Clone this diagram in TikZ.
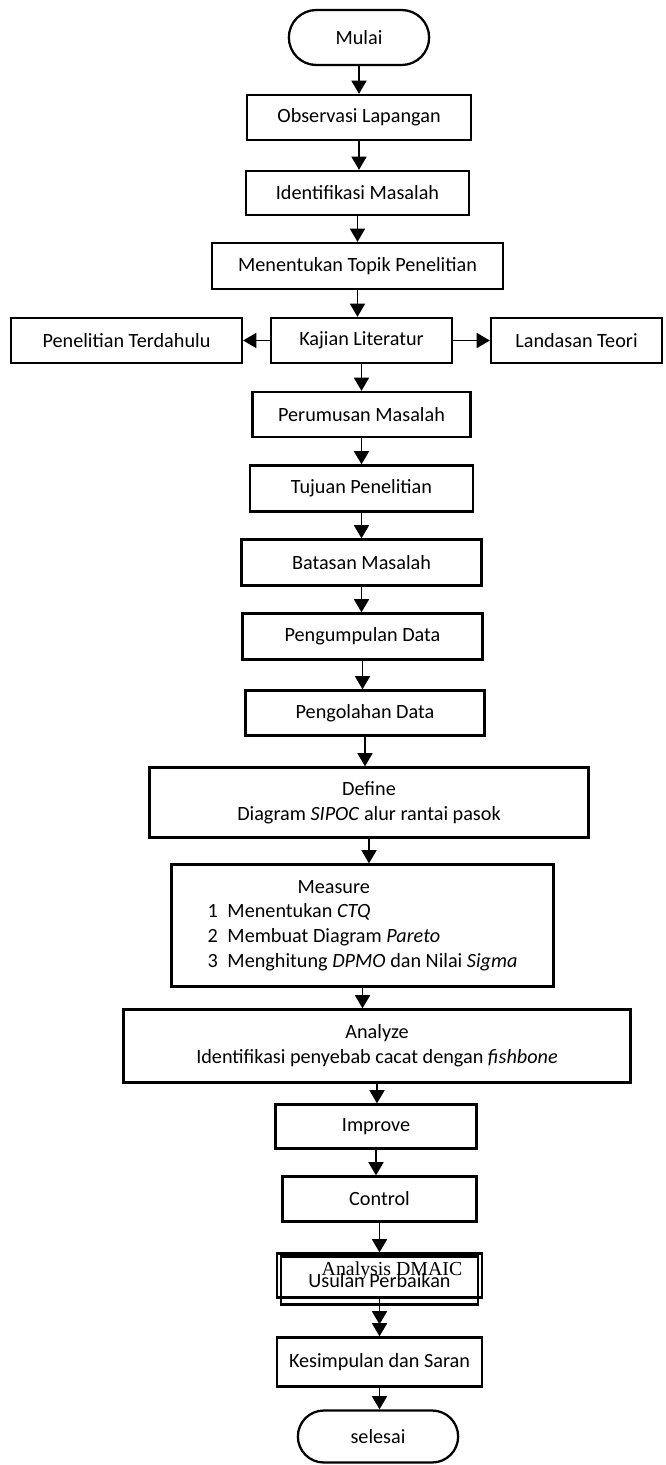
\documentclass[tikz,border=0pt]{standalone}
\usepackage{fontspec}
\setmainfont{Carlito}
\newfontfamily\dmaicfont{Liberation Serif}
\usetikzlibrary{shapes.misc, arrows.meta}
\tikzstyle{startstop} = [rounded rectangle, minimum width=3cm, minimum height=1.1cm, text centered, draw=black, 
line width=1.3pt]
\tikzstyle{process} = [rectangle, 
minimum width=4.4cm, 
minimum height=0.9cm, 
text centered, 
draw=black, 
line width=1.3pt]
\tikzstyle{arrow} = [line width=1.1pt,->,>={Triangle[width=8.5pt,length=7.5pt]}]

\begin{document}
\begin{tikzpicture}[node distance=1.48cm, font=\fontsize{11.5}{14}\selectfont]
\useasboundingbox (0,0) rectangle (13.3,-29.3);

\node (start) [startstop, minimum width=3.04cm] at (7.18,-0.75) {Mulai};
\node (obs) [process, minimum width=4.48cm, below of=start, yshift=-0.12cm] {Observasi Lapangan};
\node (ident) [process, minimum width=4.46cm, minimum height=0.88cm, below of=obs, xshift=-0.03cm, yshift=-0.03cm] {Identifikasi Masalah};
\node (topik) [process, minimum width=5.82cm, minimum height=0.92cm, below of=ident, yshift=0.02cm] {Menentukan Topik Penelitian};
\node (kajian) [process, minimum width=3.62cm, below of=topik, xshift=0.08cm, yshift=-0.01cm] {Kajian Literatur};
\node (terdahulu) [process, minimum width=4.62cm, left of=kajian, xshift=-3.22cm] {Penelitian Terdahulu};
\node (landasan) [process, minimum width=3.42cm, right of=kajian, xshift=2.82cm] {Landasan Teori};
\node (rumusan) [process, minimum width=4.36cm, below of=kajian] {Perumusan Masalah};
\node (tujuan) [process, minimum width=4.46cm, minimum height=0.92cm, below of=rumusan] {Tujuan Penelitian};
\node (batasan) [process, minimum width=4.8cm, minimum height=0.92cm, below of=tujuan] {Batasan Masalah};
\node (kumpul) [process, minimum width=4.8cm, minimum height=0.92cm, below of=batasan, xshift=0.02cm] {Pengumpulan Data};
\node (olah) [process, minimum width=4.78cm, below of=kumpul, xshift=0.05cm, yshift=-0.05cm] {Pengolahan Data};
\node (define) [process, minimum width=8.78cm, minimum height=1.4cm, align=center, below of=olah, xshift=0.08cm, yshift=-0.31cm] {Define\\Diagram \textit{SIPOC} alur rantai pasok};
\node (measure) [process, minimum width=7.64cm, minimum height=2.44cm, align=left, below of=define, xshift=-0.13cm, yshift=-0.98cm] {\hspace*{1.8cm}Measure\\
\makebox[0.4cm][l]{1}Menentukan \textit{CTQ}\\
\makebox[0.4cm][l]{2}Membuat Diagram \textit{Pareto}\\
\makebox[0.4cm][l]{3}Menghitung \textit{DPMO} dan Nilai \textit{Sigma}};
\node (analyze) [process, minimum width=10.14cm, minimum height=1.46cm, align=center, below of=measure, xshift=0.29cm, yshift=-0.93cm] {Analyze\\Identifikasi penyebab cacat dengan \textit{fishbone}};
\node (improve) [process, minimum width=4.02cm, minimum height=0.88cm, below of=analyze, xshift=-0.02cm, yshift=-0.13cm] {Improve};
\node (control) [process, minimum width=3.88cm, below of=improve, xshift=0.07cm, yshift=0.03cm] {Control};
\node (usulan) [process, minimum width=3.94cm, minimum height=0.96cm, below of=control, yshift=-0.15cm] {Usulan Perbaikan};
\node (dmaic) [process, minimum width=4.1cm, minimum height=0.88cm, yshift=0.1cm] at (usulan) {};
\node (dmaictext) [font=\dmaicfont\fontsize{11.3}{13}\selectfont, xshift=0.25cm, yshift=0.2cm] at (usulan) {Analysis DMAIC};
\node (simpulan) [process, minimum width=4.1cm, minimum height=0.98cm, below of=usulan, yshift=-0.15cm] {Kesimpulan dan Saran};
\node (stop) [startstop, minimum width=3.44cm, minimum height=1.04cm, below of=simpulan, xshift=-0.03cm, yshift=-0.01cm] {selesai};

\draw [arrow] (start.south) -- (start.south |- obs.north);
\draw [arrow] (obs.south) -- (obs.south |- ident.north);
\draw [arrow] (ident.south) -- (ident.south |- topik.north);
\draw [arrow] (topik.south) -- (topik.south |- kajian.north);
\draw [arrow] (kajian) -- (terdahulu);
\draw [arrow] (kajian) -- (landasan);
\draw [arrow] (kajian.south) -- (kajian.south |- rumusan.north);
\draw [arrow] (rumusan.south) -- (rumusan.south |- tujuan.north);
\draw [arrow] (tujuan.south) -- (tujuan.south |- batasan.north);
\draw [arrow] (batasan.south) -- (batasan.south |- kumpul.north);
\draw [arrow] (kumpul.south) -- (kumpul.south |- olah.north);
\draw [arrow] (olah.south) -- (olah.south |- define.north);
\draw [arrow] (define.south) -- (define.south |- measure.north);
\draw [arrow] (measure.south) -- (measure.south |- analyze.north);
\draw [arrow] (analyze.south) -- (analyze.south |- improve.north);
\draw [arrow] (improve.south) -- (improve.south |- control.north);
\draw [arrow] (control.south) -- (control.south |- dmaic.north);
\draw [arrow] (dmaic.south) -- (dmaic.south |- simpulan.north);
\draw [arrow, shorten >=0.24cm] (usulan.south) -- (usulan.south |- simpulan.north);
\draw [arrow] (simpulan.south) -- (simpulan.south |- stop.north);

\end{tikzpicture}
\end{document}
